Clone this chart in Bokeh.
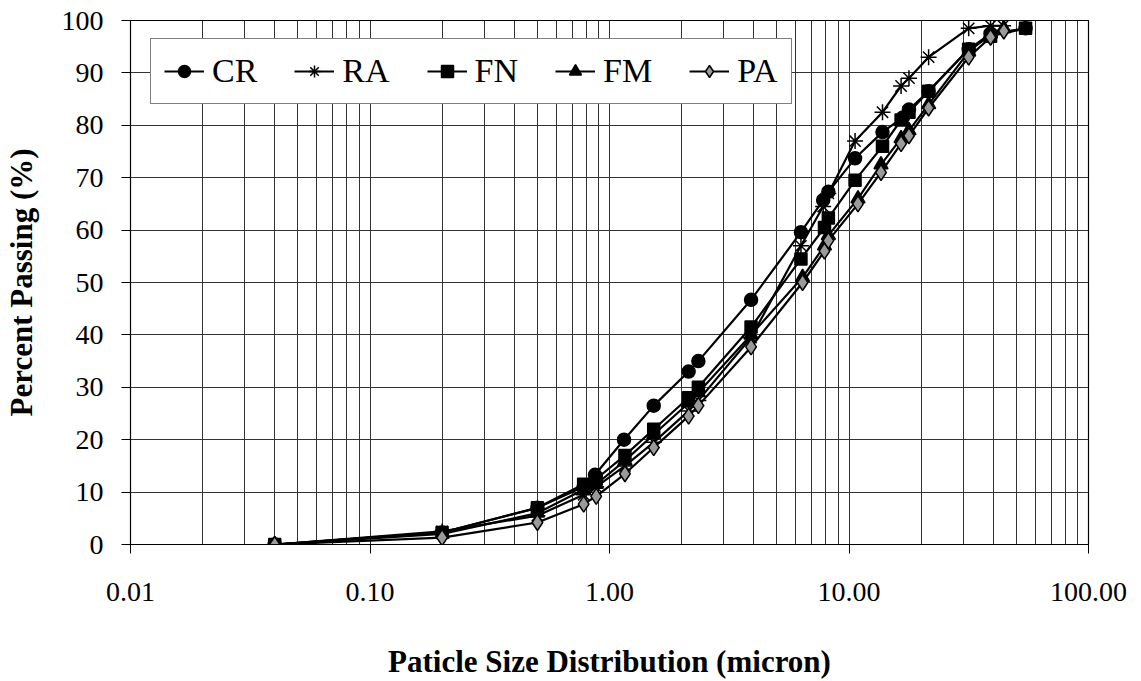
from bokeh.plotting import figure
from bokeh.models import Range1d, FixedTicker, PrintfTickFormatter, Legend, LegendItem
from bokeh.embed import file_html
from bokeh.resources import INLINE

# ---- data ----
cr_x = [0.04, 0.2, 0.5, 0.78, 0.87, 1.15, 1.53, 2.14, 2.35, 3.9, 6.3, 7.8, 8.2, 10.6, 13.8, 16.8, 17.8, 21.5, 31.6, 39, 54.6]
cr_y = [0, 2.3, 7, 11, 13.3, 20, 26.5, 33, 35, 46.7, 59.6, 65.7, 67.3, 73.7, 78.7, 81.5, 83, 86.5, 94.5, 97.5, 98.5]

ra_x = [0.04, 0.2, 0.5, 0.78, 0.88, 1.16, 1.53, 2.14, 2.35, 3.9, 6.3, 7.8, 8.2, 10.6, 13.8, 16.5, 17.8, 21.5, 31.6, 39, 44]
ra_y = [0, 2.5, 5.5, 9.5, 11, 15, 19.5, 25.5, 27.5, 39.5, 57, 64.5, 67, 77, 82.5, 87.5, 89, 93, 98.5, 99, 99]

fn_x = [0.04, 0.2, 0.5, 0.78, 0.88, 1.16, 1.53, 2.14, 2.35, 3.9, 6.3, 7.9, 8.2, 10.6, 13.8, 16.5, 17.8, 21.5, 31.6, 39, 54.6]
fn_y = [0, 2.3, 7, 11.5, 12.5, 17, 22, 28, 30, 41.5, 54.5, 60.5, 62.3, 69.5, 76, 81, 82.5, 86.5, 94.5, 97, 98.5]

fm_x = [0.04, 0.2, 0.5, 0.78, 0.88, 1.16, 1.53, 2.14, 2.35, 3.9, 6.4, 7.9, 8.2, 10.9, 13.6, 16.5, 17.8, 21.5, 31.6, 39, 44.3]
fm_y = [0, 2, 6, 10.5, 11.5, 16, 21, 27, 29, 40, 51, 57, 59, 66, 72.5, 77.5, 79, 84, 94, 97.5, 98.5]

pa_x = [0.04, 0.2, 0.5, 0.78, 0.88, 1.16, 1.53, 2.14, 2.35, 3.9, 6.4, 7.9, 8.2, 10.9, 13.6, 16.5, 17.8, 21.5, 31.6, 39, 44.3]
pa_y = [0, 1.3, 4.2, 7.7, 9.2, 13.5, 18.5, 24.5, 26.5, 37.7, 50, 56, 58, 65, 71, 76.5, 78, 83.3, 93, 96.8, 98]

x_major = [0.01, 0.1, 1, 10, 100]
y_major = list(range(0, 101, 10))

FONT = "Liberation Serif"

p = figure(width=1141, height=681, x_axis_type="log",
           x_range=Range1d(0.01, 100), y_range=Range1d(0, 100),
           output_backend="svg", toolbar_location=None,
           min_border_left=128, min_border_right=53,
           min_border_top=20, min_border_bottom=136)
p.background_fill_color = "white"
p.border_fill_color = "white"
p.outline_line_color = "black"
p.outline_line_width = 1.2

minor = [m * d for d in [0.01, 0.1, 1, 10] for m in range(2, 10)]
p.xaxis.ticker = FixedTicker(ticks=x_major, minor_ticks=minor)
p.xaxis.formatter = PrintfTickFormatter(format="%.2f")
p.yaxis.ticker = FixedTicker(ticks=y_major)

for ax in (p.xaxis[0], p.yaxis[0]):
    ax.axis_line_color = "black"
    ax.major_tick_line_color = "black"
    ax.minor_tick_line_color = None
    ax.major_tick_in = 0
    ax.major_tick_out = 9
    ax.major_label_text_font = FONT
    ax.major_label_text_font_size = "28px"
    ax.major_label_text_color = "black"
    ax.axis_label_text_font = FONT
    ax.axis_label_text_font_size = "31px"
    ax.axis_label_text_font_style = "bold"
    ax.axis_label_text_color = "black"

p.xaxis.major_label_standoff = 29
p.xaxis.axis_label = "Paticle Size Distribution (micron)"
p.xaxis.axis_label_standoff = 40
p.yaxis.major_label_standoff = 18
p.yaxis.axis_label = "Percent Passing (%)"
p.yaxis.axis_label_standoff = 20

p.xgrid.grid_line_color = "#333333"
p.xgrid.grid_line_width = 1
p.xgrid.minor_grid_line_color = "#333333"
p.xgrid.minor_grid_line_width = 1
p.ygrid.grid_line_color = "#333333"
p.ygrid.grid_line_width = 1

series = [
    ("CR", cr_x, cr_y, "circle", "black", 13),
    ("RA", ra_x, ra_y, "asterisk", "black", 16),
    ("FN", fn_x, fn_y, "square", "black", 12),
    ("FM", fm_x, fm_y, "triangle", "black", 14),
    ("PA", pa_x, pa_y, "diamond", "#9a9a9a", 16),
]

items = []
for name, xs, ys, mk, fill, sz in series:
    ln = p.line(xs, ys, line_color="black", line_width=2.2)
    sc = p.scatter(xs, ys, marker=mk, size=sz, fill_color=fill,
                   line_color="black", line_width=1.5)
    items.append(LegendItem(label=name, renderers=[ln, sc]))

legend = Legend(items=items, orientation="horizontal", location=(20, 440))
legend.label_text_font = FONT
legend.label_text_font_size = "34px"
legend.label_text_color = "black"
legend.glyph_width = 40
legend.glyph_height = 30
legend.label_standoff = 8
legend.spacing = 37
legend.padding = 13
legend.margin = 0
legend.border_line_color = "black"
legend.border_line_width = 1
legend.background_fill_color = "white"
legend.background_fill_alpha = 1
p.add_layout(legend, "center")

open("out.html", "w").write(file_html(p, INLINE))
